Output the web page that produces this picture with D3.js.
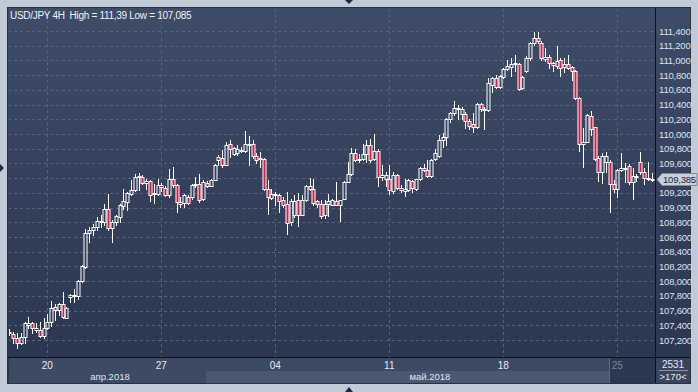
<!DOCTYPE html>
<html><head><meta charset="utf-8">
<script src="https://cdn.jsdelivr.net/npm/d3@7"></script>
<style>
body{margin:0;background:#c1cad7;}
svg{display:block;font-family:"Liberation Sans",Arial,sans-serif;}
</style>
</head><body>
<svg id="c" width="698" height="392"></svg>
<script>
// ---- data (USD/JPY 4H, 170 bars) ----
const openP=[107.29,107.277,107.223,107.155,107.236,107.404,107.426,107.336,107.336,107.259,
107.358,107.449,107.653,107.607,107.684,107.494,107.784,107.797,107.797,108.0,
108.196,108.648,108.693,108.739,108.80,108.80,108.987,108.716,108.806,108.874,
109.019,109.078,109.191,109.236,109.417,109.417,109.34,109.358,109.182,109.191,
109.304,109.272,109.177,109.386,109.304,109.078,109.064,109.146,109.137,109.304,
109.327,109.11,109.34,109.295,109.381,109.643,109.678,109.583,109.869,109.732,
109.742,109.773,109.773,109.85,109.86,109.701,109.664,109.664,109.247,109.134,
109.188,109.166,109.098,109.052,108.803,108.894,109.098,108.903,109.098,109.256,
109.256,109.088,109.052,108.894,109.052,109.039,109.088,109.039,109.12,109.347,
109.46,109.746,109.651,109.664,109.732,109.855,109.664,109.764,109.415,109.392,
109.392,109.22,109.438,109.27,109.22,109.234,109.356,109.256,109.383,109.542,
109.506,109.424,109.665,109.70,109.92,109.956,110.20,110.282,110.336,110.269,
110.273,110.178,110.133,110.101,110.404,110.336,110.327,110.667,110.758,110.644,
110.78,110.88,110.916,110.948,110.948,110.622,110.857,111.029,111.242,111.301,
111.242,111.016,111.052,110.961,110.93,111.007,110.916,110.948,110.907,110.857,
110.495,109.861,109.897,110.246,110.092,109.67,109.481,109.617,109.626,109.327,
109.25,109.508,109.526,109.571,109.354,109.417,109.626,109.49,109.399,109.39];
const highP=[107.349,107.313,107.30,107.30,107.449,107.508,107.449,107.426,107.449,107.494,
107.548,107.729,107.684,107.707,107.847,107.653,107.82,107.888,108.015,108.218,
108.702,108.739,108.775,108.874,108.897,109.055,109.191,108.829,108.897,109.055,
109.259,109.214,109.381,109.463,109.476,109.449,109.395,109.381,109.327,109.395,
109.34,109.29,109.53,109.553,109.327,109.146,109.182,109.168,109.327,109.417,
109.453,109.372,109.363,109.395,109.598,109.711,109.78,109.891,109.914,109.823,
109.846,109.823,110.036,109.973,109.923,109.742,109.755,109.674,109.37,109.256,
109.211,109.188,109.143,109.211,109.12,109.166,109.197,109.166,109.302,109.401,
109.392,109.098,109.098,109.107,109.188,109.12,109.347,109.107,109.361,109.619,
109.81,109.80,109.732,109.86,109.914,109.937,110.005,109.80,109.574,109.483,
109.574,109.483,109.46,109.302,109.392,109.392,109.37,109.392,109.551,109.596,
109.642,109.664,109.79,109.99,110.01,110.223,110.305,110.45,110.395,110.373,
110.305,110.20,110.282,110.418,110.418,110.373,110.767,110.78,110.803,110.803,
110.893,111.007,111.029,111.074,110.961,110.794,111.065,111.256,111.39,111.382,
111.265,111.165,111.074,110.984,111.197,111.029,111.029,111.074,110.93,110.871,
110.508,110.078,110.269,110.314,110.101,109.703,109.739,109.761,109.648,109.376,
109.526,109.739,109.603,109.589,109.535,109.454,109.761,109.544,109.626,109.467];
const lowP=[107.268,107.155,107.085,107.15,107.164,107.358,107.30,107.313,107.245,107.232,
107.349,107.395,107.472,107.539,107.494,107.494,107.72,107.72,107.757,107.99,
108.173,108.535,108.625,108.693,108.739,108.761,108.693,108.535,108.761,108.806,
108.974,108.965,109.168,109.227,109.236,109.327,109.259,109.087,109.064,109.168,
109.223,109.159,109.146,109.282,108.942,109.01,109.001,109.055,109.123,109.282,
109.078,109.10,109.282,109.29,109.372,109.576,109.555,109.574,109.687,109.719,
109.71,109.755,109.755,109.583,109.674,109.61,109.551,109.234,108.916,109.111,
109.03,108.939,109.007,108.644,108.757,108.871,108.748,108.894,109.084,109.243,
109.03,109.007,108.862,108.862,108.884,109.03,109.03,108.816,109.111,109.347,
109.447,109.628,109.619,109.642,109.619,109.619,109.642,109.293,109.37,109.288,
109.188,109.202,109.256,109.211,109.156,109.22,109.211,109.234,109.37,109.492,
109.415,109.415,109.65,109.69,109.829,109.852,110.169,110.259,110.205,110.205,
110.087,110.065,110.024,110.087,110.314,110.069,110.314,110.576,110.622,110.622,
110.758,110.871,110.789,110.862,110.599,110.613,110.848,111.007,111.21,111.233,
111.007,110.997,110.893,110.857,110.893,110.794,110.848,110.88,110.735,110.477,
109.77,109.558,109.888,109.988,109.648,109.363,109.331,109.49,108.946,109.218,
109.137,109.499,109.354,109.318,109.118,109.363,109.454,109.318,109.376,109.363];
const closeP=[107.313,107.223,107.155,107.236,107.426,107.426,107.358,107.358,107.259,107.358,
107.449,107.63,107.607,107.684,107.508,107.634,107.806,107.806,108.0,108.205,
108.648,108.693,108.739,108.815,108.815,108.987,108.716,108.806,108.883,109.033,
109.087,109.20,109.245,109.417,109.426,109.34,109.358,109.177,109.20,109.304,
109.282,109.177,109.386,109.304,109.078,109.055,109.168,109.064,109.304,109.318,
109.10,109.349,109.295,109.381,109.576,109.689,109.583,109.855,109.80,109.81,
109.80,109.787,109.86,109.86,109.701,109.651,109.678,109.247,109.143,109.188,
109.166,109.088,109.039,108.794,109.084,109.084,108.894,109.098,109.288,109.288,
109.066,109.052,108.884,109.052,109.088,109.098,109.039,109.098,109.347,109.46,
109.746,109.651,109.664,109.732,109.855,109.642,109.764,109.415,109.438,109.438,
109.234,109.447,109.27,109.234,109.247,109.379,109.265,109.383,109.537,109.506,
109.424,109.651,109.745,109.915,109.956,110.20,110.282,110.35,110.35,110.341,
110.178,110.11,110.092,110.404,110.336,110.323,110.699,110.758,110.644,110.789,
110.88,110.925,110.948,110.961,110.608,110.78,111.029,111.242,111.301,111.265,
111.029,111.052,110.961,110.939,110.993,110.902,110.948,110.902,110.857,110.495,
109.861,109.897,110.259,110.069,109.662,109.481,109.703,109.707,109.327,109.25,
109.508,109.535,109.544,109.345,109.431,109.435,109.49,109.399,109.39,109.385];
const priceTicks=[107.2,107.4,107.6,107.8,108.0,108.2,108.4,108.6,108.8,109.0,109.2,
109.4,109.6,109.8,110.0,110.2,110.4,110.6,110.8,111.0,111.2,111.4];
const dateTickIdx=[10,40,70,100,130,160];
const dateTickLabels=["20","27","04","11","18","25"];
const monthLabels=["апр.2018","май.2018"];
const monthIdx=[26.5,110.7];
const titleText="USD/JPY 4H  High = 111,39 Low = 107,085";
const lastPrice=109.385;
const barsTotal="2531", barsVisible=">170<";

// ---- drawing ----
const svg=d3.select("#c");
const W=698,H=392;
const L=8,T=8,R=690,B=383;      // panel
const PX=655, PY=357;           // plot right / bottom
const x=d3.scaleLinear().domain([0,169]).range([9.3,651.5]);
const y=d3.scaleLinear().domain([107.2,111.4]).range([340,31]);
const fmt=v=>d3.format(".3f")(v).replace(".",",");

const defs=svg.append("defs");
const g1=defs.append("linearGradient").attr("id","bg").attr("x1",0).attr("y1",0).attr("x2",0).attr("y2",1);
g1.append("stop").attr("offset","0%").attr("stop-color","#3f4c67");
g1.append("stop").attr("offset","100%").attr("stop-color","#2a354f");
defs.append("clipPath").attr("id","clip").append("rect").attr("x",L+1).attr("y",T+1).attr("width",PX-L-1).attr("height",PY-T-1);

svg.append("rect").attr("width",W).attr("height",H).attr("fill","#c1cad7");
svg.append("rect").attr("x",L).attr("y",T).attr("width",R-L).attr("height",B-T).attr("fill","url(#bg)");

// grid
const grid=svg.append("g").attr("clip-path","url(#clip)");
grid.selectAll("line.h").data(priceTicks).join("line")
  .attr("x1",L).attr("x2",PX).attr("y1",d=>Math.round(y(d))+0.5).attr("y2",d=>Math.round(y(d))+0.5)
  .attr("stroke","#56637d").attr("stroke-dasharray","3,3");
grid.selectAll("line.v").data(dateTickIdx).join("line")
  .attr("x1",d=>Math.round(x(d))+0.5).attr("x2",d=>Math.round(x(d))+0.5).attr("y1",T).attr("y2",PY)
  .attr("stroke","#56637d").attr("stroke-dasharray","3,3");

// candles
const idx=d3.range(openP.length);
const cg=svg.append("g").attr("clip-path","url(#clip)");
const cx=i=>Math.round(x(i))+0.5;
const bt=i=>Math.round(y(Math.max(openP[i],closeP[i])))+0.5;
const bb=i=>Math.max(Math.round(y(Math.min(openP[i],closeP[i])))+0.5,bt(i)+1);
cg.selectAll("line.wu").data(idx).join("line")
  .attr("x1",cx).attr("x2",cx).attr("y1",i=>Math.round(y(highP[i]))).attr("y2",bt)
  .attr("stroke","#ffffff").attr("stroke-width",1);
cg.selectAll("line.wd").data(idx).join("line")
  .attr("x1",cx).attr("x2",cx).attr("y1",bb).attr("y2",i=>Math.round(y(lowP[i]))+1)
  .attr("stroke","#ffffff").attr("stroke-width",1);
cg.selectAll("rect.b").data(idx).join("rect")
  .attr("x",i=>cx(i)-1.5).attr("width",3)
  .attr("y",bt).attr("height",i=>bb(i)-bt(i))
  .attr("fill",i=>closeP[i]<openP[i]?"#e5173f":"none")
  .attr("stroke","#ffffff").attr("stroke-width",1);

// title
svg.append("text").attr("x",10).attr("y",19).attr("fill","#eef2fa")
  .attr("font-size",10).attr("letter-spacing","-0.3px").attr("xml:space","preserve").text(titleText);

// bottom date rows
svg.append("rect").attr("x",L+1).attr("y",PY+1).attr("width",PX-L-1).attr("height",B-PY-1).attr("fill","#3d4a64");
svg.append("rect").attr("x",206).attr("y",371).attr("width",403).attr("height",B-371).attr("fill","#4a5772");
svg.append("rect").attr("x",610).attr("y",PY+1).attr("width",PX-610).attr("height",B-PY-1).attr("fill","#2c3851");
svg.append("line").attr("x1",609.5).attr("x2",609.5).attr("y1",PY+1).attr("y2",B).attr("stroke","#5d6a84");
svg.append("rect").attr("x",PX+1).attr("y",PY+1).attr("width",R-PX-1).attr("height",B-PY-1).attr("fill","#39455f");

svg.selectAll("text.d").data(dateTickIdx).join("text")
  .attr("x",d=>x(d)).attr("y",368.5).attr("text-anchor","middle").attr("font-size",10)
  .attr("fill",(d,i)=>i===dateTickIdx.length-1?"#7c879c":"#e4eaf4").text((d,i)=>dateTickLabels[i]);
svg.selectAll("text.m").data(monthIdx).join("text")
  .attr("x",d=>x(d)).attr("y",380).attr("text-anchor","middle").attr("font-size",9.5)
  .attr("fill","#dfe6f1").text((d,i)=>monthLabels[i]);
svg.append("text").attr("x",673).attr("y",368).attr("text-anchor","middle").attr("font-size",10).attr("fill","#e4eaf4").text(barsTotal);
svg.append("line").attr("x1",659).attr("x2",688).attr("y1",370.5).attr("y2",370.5).attr("stroke","#8692a8");
svg.append("text").attr("x",673).attr("y",379.5).attr("text-anchor","middle").attr("font-size",9.5).attr("fill","#e4eaf4").text(barsVisible);

// separators + frame
svg.append("line").attr("x1",PX+0.5).attr("x2",PX+0.5).attr("y1",T).attr("y2",B).attr("stroke","#0c111c");
svg.append("line").attr("x1",L).attr("x2",R).attr("y1",PY+0.5).attr("y2",PY+0.5).attr("stroke","#0c111c");
svg.append("rect").attr("x",L-0.5).attr("y",T-0.5).attr("width",R-L+1).attr("height",B-T+1)
  .attr("fill","none").attr("stroke","#2a3142");

// price axis labels (the one hidden behind the last-price tag is skipped, as in the reference)
const yp=Math.round(y(lastPrice))+0.5;
svg.selectAll("text.p").data(priceTicks.filter(d=>Math.abs(y(d)-yp)>9)).join("text")
  .attr("x",659).attr("y",d=>y(d)+3.5).attr("font-size",9.5).attr("letter-spacing","-0.2px")
  .attr("fill","#d9e3f2").text(d=>fmt(d));

// last price tag
svg.append("path").attr("d",`M657,${yp} L662,${yp-6} L697,${yp-6} L697,${yp+6} L662,${yp+6} Z`)
  .attr("fill","#c9d0db").attr("stroke","#7d889a");
svg.append("text").attr("x",663).attr("y",yp+3.5).attr("font-size",9.5).attr("letter-spacing","-0.2px")
  .attr("fill","#1b2335").text(fmt(lastPrice));

// scroll arrows
svg.append("path").attr("d","M345,0 L353,0 L349,4 Z").attr("fill","#1f2a3d");
svg.append("path").attr("d","M345,392 L353,392 L349,387 Z").attr("fill","#1f2a3d");
svg.append("path").attr("d","M0,164 L0,172 L4,168 Z").attr("fill","#1f2a3d");
</script>
</body></html>
